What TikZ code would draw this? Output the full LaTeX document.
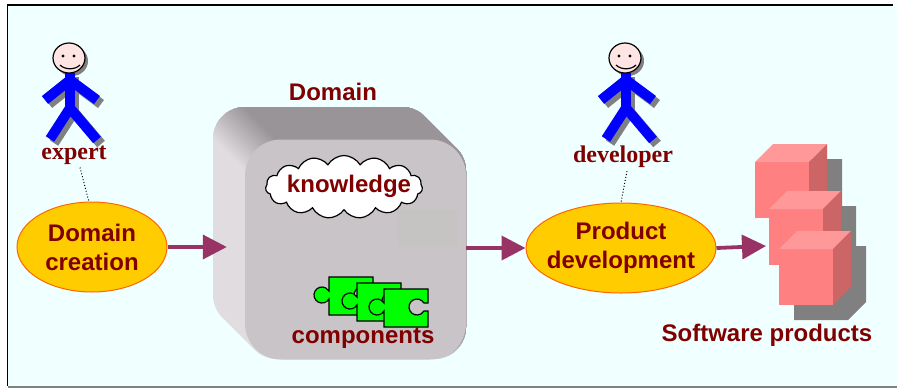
\documentclass[tikz,border=0pt]{standalone}
\usepackage{fontspec}
\setmainfont{Liberation Serif}
\setsansfont{Liberation Sans}
\usetikzlibrary{shapes.geometric,shapes.symbols,arrows.meta,calc}

\definecolor{bgcyan}{RGB}{240,255,255}
\definecolor{labelred}{RGB}{128,0,0}
\definecolor{flow}{RGB}{153,51,102}
\definecolor{ovalfill}{RGB}{255,204,0}
\definecolor{ovalline}{RGB}{255,102,0}
\definecolor{boxfront}{RGB}{200,196,200}
\definecolor{boxtop}{RGB}{152,148,152}
\definecolor{boxside}{RGB}{224,220,224}
\definecolor{boxpatch}{RGB}{197,196,195}
\definecolor{cubefront}{RGB}{255,128,128}
\definecolor{cubetop}{RGB}{255,153,153}
\definecolor{cubeside}{RGB}{204,102,102}
\definecolor{shadowgray}{RGB}{128,128,128}
\definecolor{facepink}{RGB}{255,228,228}
\definecolor{figblue}{RGB}{0,0,255}
\definecolor{piecegreen}{RGB}{0,255,0}

\tikzset{
  sanslabel/.style={text=labelred, font=\sffamily\bfseries\fontsize{24}{29}\selectfont, align=center, inner sep=0pt},
  roletext/.style={text=labelred, font=\rmfamily\bfseries\fontsize{24}{28}\selectfont, inner sep=0pt},
  activity/.style={ellipse, draw=ovalline, line width=1pt, fill=ovalfill, sanslabel},
  flowarrow/.style={draw=flow, line width=3.8pt, -{Triangle[length=24pt,width=24pt]}},
  tieline/.style={dotted, line width=1pt, black},
  limb/.style={line width=10pt},
  outline/.style={draw=black, line width=1.2pt},
}

% stick figure, shifted horizontally by #1
\newcommand\stickfigure[1]{%
  \begin{scope}[shift={(#1,0)}]
    \begin{scope}[shift={(4,4)}]
      \draw[limb, shadowgray] (70,73) -- (70,112);
      \draw[limb, shadowgray] (70,80) -- (45,100) (70,80) -- (97,100);
      \draw[limb, shadowgray] (70,108) -- (50,139) (70,108) -- (97,140);
    \end{scope}
    \fill[shadowgray] (72,61) ellipse [x radius=16, y radius=15];
    \draw[limb, figblue] (70,73) -- (70,112);
    \draw[limb, figblue] (70,80) -- (45,100) (70,80) -- (97,100);
    \draw[limb, figblue] (70,108) -- (50,139) (70,108) -- (97,140);
    \filldraw[fill=facepink, outline] (69,58) ellipse [x radius=16, y radius=15];
    \fill (63,56) circle [radius=1.7] (74,56) circle [radius=1.7];
    \draw[line width=1.2pt] (60,65) .. controls (65,70) and (75,70) .. (80,65);
  \end{scope}}

% one jigsaw piece, top-left corner at (#1,#2)
\newcommand\jigsaw[2]{%
  \draw[fill=piecegreen, outline, shift={(#1,#2)}]
    (0,0) -- (44,0) -- (44,14) -- (39.9,14)
    arc[start angle=-30, end angle=-330, radius=8] -- (44,22) -- (44,38)
    -- (0,38) -- (0,21.9) arc[start angle=29, end angle=331, radius=8] -- cycle;}

% one cube with its drop shadow, front top-left corner at (#1,#2)
\newcommand\productcube[2]{%
  \begin{scope}[shift={(#1,#2)}]
    \fill[shadowgray] (15,15) -- (33,-3) -- (87,-3) -- (87,53) -- (69,71) -- (15,71) -- cycle;
    \fill[cubefront] (0,0) rectangle (54,56);
    \fill[cubetop] (0,0) -- (18,-18) -- (72,-18) -- (54,0) -- cycle;
    \fill[cubeside] (54,0) -- (72,-18) -- (72,38) -- (54,56) -- cycle;
  \end{scope}}

\begin{document}
\begin{tikzpicture}[x=1pt,y=-1pt]
\useasboundingbox (0,0) rectangle (897,389);

% page and frame
\fill[white] (0,0) rectangle (897,389);
\fill[bgcyan] (7,5) rectangle (897,386);
\draw[shadowgray, line width=2.5pt] (8,387.2) -- (897,387.2);
\draw[black, line width=1.8pt] (7.5,386) -- (7.5,5) -- (893,5);

% actors
\stickfigure{0}
\stickfigure{556}
\node[roletext] (expert) at (74,155) {expert};
\node[roletext] (developer) at (623,157) {developer};

% activities
\node[activity, minimum width=150pt, minimum height=90pt] (dc) at (92,247) {Domain\\creation};
\node[activity, inner xsep=-9pt, minimum width=190pt, minimum height=90pt] (pd) at (621,248) {Product\\development};

\draw[tieline] ([xshift=6pt,yshift=-3pt]expert.south) -- (dc.94);
\draw[tieline] ([xshift=4pt,yshift=-3pt]developer.south) -- (pd.north);

% extruded domain box: side walls swept from the back face to the front face
\fill[boxside, rounded corners=32pt]
  \foreach \t in {0,...,32}{(213+\t,107+\t) rectangle (434+\t,327+\t)};
\foreach \k in {0,...,15}{
  \pgfmathsetmacro\s{76+4*\k}
  \pgfmathtruncatemacro\p{round(100*(\k+1)/16)}
  \begin{scope}
    \clip (\s+60,60) -- (\s+420,420) -- (1000,420) -- (1000,60) -- cycle;
    \fill[boxtop!\p!boxside, rounded corners=32pt]
      \foreach \t in {0,...,32}{(213+\t,107+\t) rectangle (434+\t,327+\t)};
  \end{scope}
}
\node[fill=boxfront, rounded corners=36pt, minimum width=221pt, minimum height=220pt, inner sep=0pt] (dbox) at (355.5,249.5) {};
\fill[boxpatch] (397,210) rectangle (457,247);

\node[sanslabel] (domain) at (333,92) {Domain};

% knowledge cloud
\node[cloud, outline, fill=white, cloud puffs=15, cloud puff arc=120, aspect=2.4,
      minimum width=157pt, minimum height=63pt, inner sep=0pt] (cloud) at (344,187) {};
\node[sanslabel] (knowledge) at (349,186) {knowledge};

% components
\jigsaw{329}{277}
\jigsaw{357}{283}
\jigsaw{384}{289}
\node[sanslabel] (components) at (363,338) {components};

% software products
\productcube{755}{162}
\productcube{769}{209}
\productcube{779}{249}
\coordinate (cubesin) at (766,246);
\node[sanslabel] (products) at (767,335) {Software products};

% flow arrows
\coordinate (boxin) at ([xshift=-18pt]dbox.west);
\draw[flowarrow] (dc.east) -- (dc.east -| boxin);
\draw[flowarrow] (dbox.east |- pd.west) -- (pd.west);
\draw[flowarrow] (pd.east) -- (cubesin);
\end{tikzpicture}
\end{document}
